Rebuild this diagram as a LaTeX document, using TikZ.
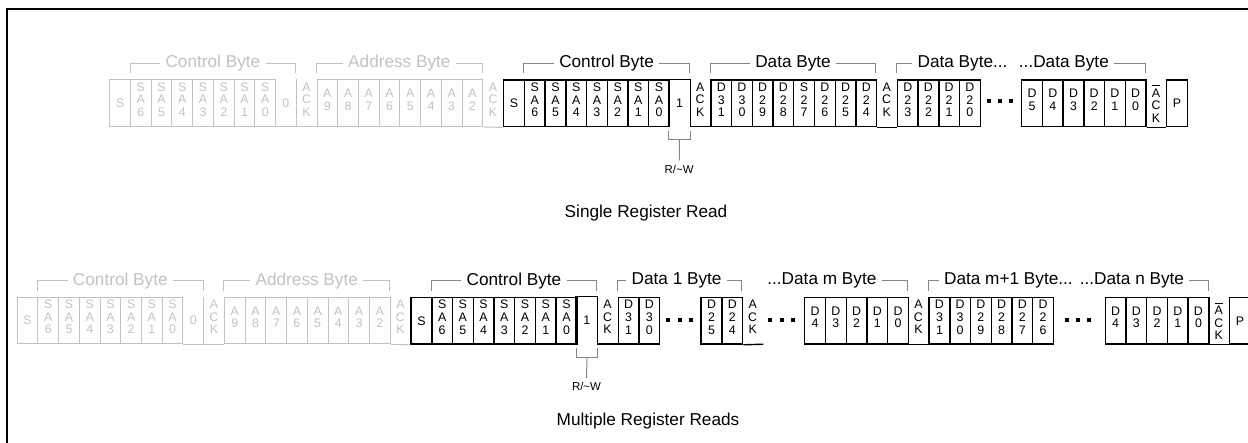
\documentclass[tikz,border=0pt]{standalone}
\usepackage{fontspec}
\setmainfont{Liberation Sans}
\usepackage{tikz}
\definecolor{FadedGray}{HTML}{C2C2C2}
\definecolor{BracketGray}{HTML}{858585}

\begin{document}
\begin{tikzpicture}[
      x=0.5pt, y=-0.5pt,
      every node/.style={align=center},
      cell/.style={minimum width=10.36pt, minimum height=23.35pt, inner sep=0pt, anchor=north west, font=\fontsize{6.2}{6.3}\selectfont},
      bit/.style={cell, draw, line width=0.7pt},
      fadedcell/.style={cell, text=FadedGray},
      fadedbit/.style={cell, draw=FadedGray, text=FadedGray, line width=0.5pt},
      stack/.style={text depth=3.5pt},
      nack/.style={cell, text depth=3.5pt, yshift=-2pt},
      busline/.style={line width=0.7pt},
      fadedline/.style={FadedGray, line width=0.5pt},
      bracket/.style={BracketGray, line width=0.5pt},
      title/.style={font=\fontsize{8.6}{10}\selectfont, inner xsep=2.5pt},
      fadedtitle/.style={title, text=FadedGray},
      fadedbracket/.style={FadedGray, line width=0.5pt},
      note/.style={font=\fontsize{5.7}{6.25}\selectfont, inner sep=2pt},
      dot/.style={fill, minimum size=2pt, inner sep=0pt}
    ]
  \useasboundingbox (0,0) rectangle (1248,443);
  \draw[line width=1pt] (7.3,445) -- (7.3,9.3) -- (1250,9.3);

  % address write (faded) and control byte, same in both rows
  \foreach \rowid/\ox/\oy in {t/109.3/79.3, b/16.7/296.7} {
    \begin{scope}[shift={(\ox,\oy)}, x=10.36pt]
      \node[fadedbit] (\rowid0) at (0,0) {S};
      \foreach \digit [count=\i] in {6,...,0}
        \node[fadedbit, stack] (\rowid\i) at (\i,0) {S\\A\\\digit};
      \node[fadedcell] (\rowid8) at (8,0) {0};
      \node[fadedcell, stack] (\rowid9) at (9,0) {A\\C\\K};
      \foreach \digit [count=\i from 10] in {9,...,2}
        \node[fadedbit, stack] (\rowid\i) at (\i,0) {A\\\digit};
      \node[fadedcell, stack] (\rowid18) at (18,0) {A\\C\\K};
      \node[bit] (\rowid19) at (19,0) {S};
      \foreach \digit [count=\i from 20] in {6,...,0}
        \node[bit, stack] (\rowid\i) at (\i,0) {S\\A\\\digit};
      \node[cell] (\rowid27) at (27,0) {1};
      \node[cell, stack] (\rowid28) at (28,0) {A\\C\\K};
      \draw[fadedline] (\rowid7.south east) -- (\rowid10.south west);
      \draw[fadedline] (\rowid8.north east) -- (\rowid8.south east);
      \draw[fadedline] (\rowid17.south east) -- (\rowid19.south west);
      \draw[busline] (\rowid27.south west) |- (\rowid27.north east) -- (\rowid27.south east) -- (\rowid28.south east);
      % byte labels
      \node[fadedtitle] (\rowid ctl0) at (5,-16) {Control Byte};
      \draw[fadedbracket] (1,-6) |- (\rowid ctl0);
      \draw[fadedbracket] (\rowid ctl0) -| (9,-6);
      \node[fadedtitle] (\rowid adr) at (14,-16) {Address Byte};
      \draw[fadedbracket] (10,-6) |- (\rowid adr);
      \draw[fadedbracket] (\rowid adr) -| (18,-6);
      \node[title] (\rowid ctl1) at (24,-16) {Control Byte};
      \draw[bracket] (20,-6) |- (\rowid ctl1);
      \draw[bracket] (\rowid ctl1) -| (28,-6);
      % read/write bit
      \node[note] (\rowid rw) at (27.5,90) {R/\textasciitilde W};
      \draw[bracket] ([yshift=-2pt]\rowid27.south west) -- ++(0,9) -| ([yshift=-2pt]\rowid27.south east);
      \draw[bracket] ([yshift=-6.5pt]\rowid27.south) -- (\rowid rw);
    \end{scope}
  }

  % single register read
  \begin{scope}[shift={(109.3,79.3)}, x=10.36pt]
    \foreach \lbl [count=\i from 29] in {D\\3\\1, D\\3\\0, D\\2\\9, D\\2\\8, S\\2\\7, D\\2\\6, D\\2\\5, D\\2\\4}
      \node[bit, stack] (t\i) at (\i,0) {\lbl};
    \node[cell, stack] (t37) at (37,0) {A\\C\\K};
    \foreach \lbl [count=\i from 38] in {D\\2\\3, D\\2\\2, D\\2\\1, D\\2\\0}
      \node[bit, stack] (t\i) at (\i,0) {\lbl};
    \foreach \digit [count=\i from 44] in {5,...,0}
      \node[bit, stack] (t\i) at (\i,0) {D\\\digit};
    \node[nack] (t50) at (50,0) {$\overline{\mbox{A}}$\\C\\K};
    \node[bit] (t51) at (51,0) {P};
    \draw[busline] (t36.south east) -- (t38.south west);
    \draw[busline] (t49.south east) -- (t51.south west);
    \foreach \x [count=\j] in {42.47, 43, 43.53}
      \node[dot] (tdot\j) at (\x,22) {};
    \node[title] (tdata) at (33,-16) {Data Byte};
    \draw[bracket] (29,-6) |- (tdata);
    \draw[bracket] (tdata) -| (37,-6);
    \node[title, anchor=west] (tmore) at (38.75,-16) {Data Byte...};
    \draw[bracket] (38,-6) |- (tmore);
    \node[title, anchor=east] (tlast) at (48.5,-16) {...Data Byte};
    \draw[bracket] (tlast) -| (50,-6);
  \end{scope}
  \node[title] (single) at (646,213) {Single Register Read};

  % multiple register reads
  \begin{scope}[shift={(16.7,296.7)}, x=10.36pt]
    \node[bit, stack] (b29) at (29,0) {D\\3\\1};
    \node[bit, stack] (b30) at (30,0) {D\\3\\0};
    \node[bit, stack] (b33) at (33,0) {D\\2\\5};
    \node[bit, stack] (b34) at (34,0) {D\\2\\4};
    \node[cell, stack] (b35) at (35,0) {A\\C\\K};
    \foreach \digit [count=\i from 38] in {4,...,0}
      \node[bit, stack] (b\i) at (\i,0) {D\\\digit};
    \node[cell, stack] (b43) at (43,0) {A\\C\\K};
    \foreach \lbl [count=\i from 44] in {D\\3\\1, D\\3\\0, D\\2\\9, D\\2\\8, D\\2\\7, D\\2\\6}
      \node[bit, stack] (b\i) at (\i,0) {\lbl};
    \foreach \digit [count=\i from 53] in {4,...,0}
      \node[bit, stack] (b\i) at (\i-0.5,0) {D\\\digit};
    \node[nack] (b58) at (57.5,0) {$\overline{\mbox{A}}$\\C\\K};
    \node[bit] (b59) at (58.5,0) {P};
    \draw[busline] (b34.south east) -- (b35.south east);
    \draw[busline] (b42.south east) -- (b44.south west);
    \draw[busline] (b57.south east) -- (b59.south west);
    \foreach \x [count=\j] in {31.43, 32.01, 32.54, 36.36, 36.92, 37.45, 50.68, 51.24, 51.77}
      \node[dot] (bdot\j) at (\x,23.3) {};
    \node[title] (bfirst) at (31.85,-16) {Data 1 Byte};
    \draw[bracket] (29,-6) |- (bfirst);
    \draw[bracket] (bfirst) -| (35,-6);
    \node[title, anchor=east] (bmth) at (41.75,-16) {...Data m Byte};
    \draw[bracket] (bmth) -| (43,-6);
    \node[title, anchor=west] (bnext) at (44.5,-16) {Data m+1 Byte...};
    \draw[bracket] (44,-6) |- (bnext);
    \node[title, anchor=east] (blast) at (56.6,-16) {...Data n Byte};
    \draw[bracket] (blast) -| (57.5,-6);
  \end{scope}
  \node[title] (multiple) at (648,421.5) {Multiple Register Reads};
\end{tikzpicture}
\end{document}
